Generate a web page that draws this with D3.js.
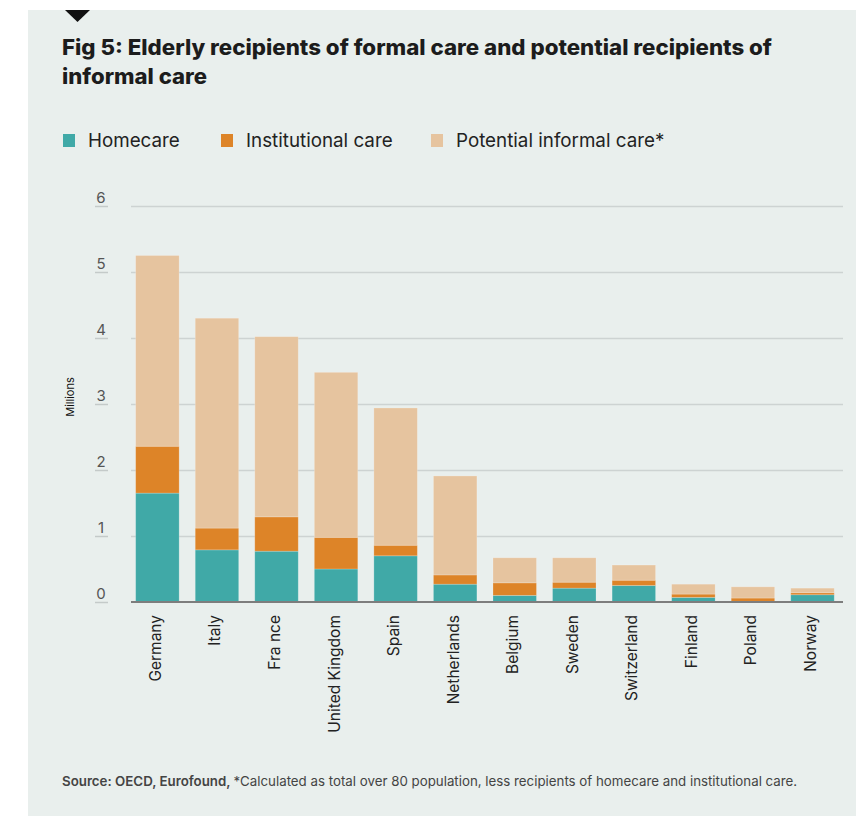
<!DOCTYPE html>
<html>
<head>
<meta charset="utf-8">
<script src="https://cdn.jsdelivr.net/npm/d3@7"></script>
<style>
  html, body { margin: 0; padding: 0; background: #ffffff; }
  svg { display: block; font-family: Inter, "Noto Sans", sans-serif; }
</style>
</head>
<body>
<svg id="chart" width="856" height="816"></svg>
<script>
// Countries, in display order
const countries = ["Germany", "Italy", "Fra nce", "United Kingdom", "Spain", "Netherlands",
                   "Belgium", "Sweden", "Switzerland", "Finland", "Poland", "Norway"];
// Recipients, millions
const homecare      = [1.65, 0.79, 0.77, 0.50, 0.70, 0.27, 0.10, 0.21, 0.25, 0.07, 0.01, 0.11];
const institutional = [0.71, 0.33, 0.52, 0.48, 0.16, 0.14, 0.19, 0.09, 0.08, 0.05, 0.05, 0.03];
const informal      = [2.89, 3.18, 2.73, 2.50, 2.08, 1.50, 0.38, 0.37, 0.23, 0.15, 0.17, 0.07];
const seriesKeys   = ["homecare", "institutional", "informal"];
const seriesLabels = ["Homecare", "Institutional care", "Potential informal care*"];
const yTicks = [0, 1, 2, 3, 4, 5, 6];

const colors = { homecare: "#40a9a7", institutional: "#dd8428", informal: "#e6c49f" };

const rows = countries.map((c, i) => ({
  country: c, homecare: homecare[i], institutional: institutional[i], informal: informal[i]
}));

const svg = d3.select("#chart");

// Panel background and marker
svg.append("rect").attr("x", 28).attr("y", 10).attr("width", 828).attr("height", 806)
  .attr("fill", "#e9efed");
svg.append("path").attr("d", "M65,10 L90,10 L77.5,22 Z").attr("fill", "#111");

// Title, two lines
const title = svg.append("g").attr("font-weight", 800).attr("font-size", 21).attr("fill", "#1c1c1c");
title.append("text").attr("x", 62).attr("y", 55)
  .attr("textLength", 710).attr("lengthAdjust", "spacingAndGlyphs")
  .text("Fig 5: Elderly recipients of formal care and potential recipients of");
title.append("text").attr("x", 62).attr("y", 84)
  .attr("textLength", 145).attr("lengthAdjust", "spacingAndGlyphs")
  .text("informal care");

// Legend
const legendX = [63, 221, 431];
const legend = svg.append("g");
seriesKeys.forEach((k, i) => {
  legend.append("rect").attr("x", legendX[i]).attr("y", 134).attr("width", 12).attr("height", 13)
    .attr("fill", colors[k]);
  legend.append("text").attr("x", legendX[i] + 25).attr("y", 147)
    .attr("font-size", 18.8).attr("fill", "#222").text(seriesLabels[i]);
});

// Scales
const x = d3.scaleBand().domain(countries).range([131.5, 838.4])
  .paddingInner(0.27).paddingOuter(0.07);
const y = d3.scaleLinear().domain([0, 6]).range([602, 206]);

// Gridlines
const grid = svg.append("g").attr("transform", "translate(131,0)")
  .call(d3.axisRight(y).tickValues(yTicks.slice(1)).tickSize(712).tickFormat(""));
grid.select(".domain").remove();
grid.selectAll("line").attr("stroke", "#cdd3d2").attr("stroke-width", 1.5);

// Y axis: labels sitting on short tick marks
const yAxis = svg.append("g").attr("transform", "translate(108,0)")
  .call(d3.axisLeft(y).tickValues(yTicks).tickSize(13).tickFormat(d3.format("d")));
yAxis.select(".domain").remove();
yAxis.selectAll("line").attr("stroke", "#c4cac9").attr("stroke-width", 1.5);
yAxis.selectAll("text").attr("x", -7).attr("y", -4).attr("dy", 0)
  .attr("text-anchor", "middle").attr("font-size", 15).attr("fill", "#555")
  .style("font-family", "Inter, sans-serif");

svg.append("text").attr("transform", "translate(74,397) rotate(-90)")
  .attr("text-anchor", "middle").attr("font-size", 11).attr("fill", "#111").text("Millions");

// Stacked bars
const stacked = d3.stack().keys(seriesKeys)(rows);
svg.append("g").selectAll("g").data(stacked).join("g")
  .attr("fill", d => colors[d.key])
  .selectAll("rect").data(d => d).join("rect")
  .attr("x", d => x(d.data.country))
  .attr("width", x.bandwidth())
  .attr("y", d => y(d[1]))
  .attr("height", d => y(d[0]) - y(d[1]))
  .attr("stroke", "rgba(255,255,255,0.25)").attr("stroke-width", 0.8);

// Baseline
svg.append("line").attr("x1", 131).attr("x2", 843).attr("y1", y(0)).attr("y2", y(0))
  .attr("stroke", "#7d7d7d").attr("stroke-width", 2);

// X axis labels, rotated
const xAxis = svg.append("g").attr("transform", `translate(0,${y(0)})`)
  .call(d3.axisBottom(x).tickSize(0));
xAxis.select(".domain").remove();
xAxis.selectAll("text")
  .attr("transform", "rotate(-90)").attr("x", -13).attr("y", -2).attr("dy", "0.35em")
  .attr("text-anchor", "end").attr("font-size", 15.5).attr("fill", "#222")
  .style("font-family", "Inter, sans-serif");

// Source note
const note = svg.append("text").attr("x", 62).attr("y", 786).attr("font-size", 13.3).attr("fill", "#444");
note.append("tspan").attr("font-weight", 600).text("Source: OECD, Eurofound, ");
note.append("tspan").text("*Calculated as total over 80 population, less recipients of homecare and institutional care.");
</script>
</body>
</html>
